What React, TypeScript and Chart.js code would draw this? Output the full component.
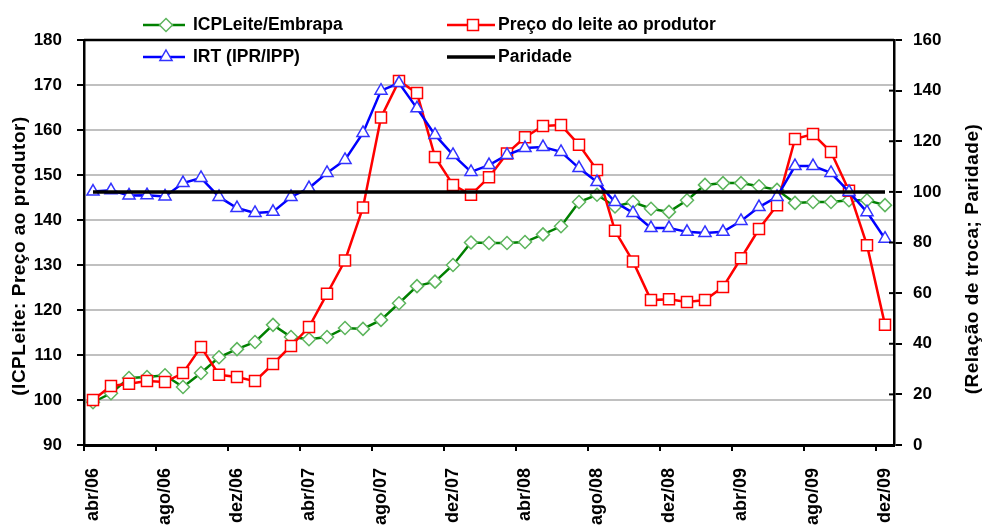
import React, { useEffect, useRef } from 'react';
import { Chart, registerables } from 'chart.js';

Chart.register(...registerables);

const FONT = '"Liberation Sans", Arial, Helvetica, sans-serif';

const months = [
  'abr/06', 'mai/06', 'jun/06', 'jul/06', 'ago/06', 'set/06', 'out/06', 'nov/06', 'dez/06',
  'jan/07', 'fev/07', 'mar/07', 'abr/07', 'mai/07', 'jun/07', 'jul/07', 'ago/07', 'set/07', 'out/07', 'nov/07', 'dez/07',
  'jan/08', 'fev/08', 'mar/08', 'abr/08', 'mai/08', 'jun/08', 'jul/08', 'ago/08', 'set/08', 'out/08', 'nov/08', 'dez/08',
  'jan/09', 'fev/09', 'mar/09', 'abr/09', 'mai/09', 'jun/09', 'jul/09', 'ago/09', 'set/09', 'out/09', 'nov/09', 'dez/09',
];

const shownTicks = ['abr/06', 'ago/06', 'dez/06', 'abr/07', 'ago/07', 'dez/07', 'abr/08', 'ago/08', 'dez/08', 'abr/09', 'ago/09', 'dez/09'];

// Left axis series
const icpLeite = [
  99.5, 101.5, 104.9, 105.1, 105.5, 102.9, 106, 109.5, 111.3,
  112.9, 116.7, 114, 113.5, 114, 116, 115.8, 117.8, 121.5, 125.3, 126.3, 130,
  135, 134.9, 134.9, 135.1, 136.8, 138.6, 144, 145.6, 143, 144, 142.5, 141.8,
  144.4, 147.8, 148.2, 148.2, 147.5, 146.7, 143.8, 144, 144, 144.4, 144.4, 143.3,
];

const precoLeite = [
  100, 103.1, 103.6, 104.2, 104, 106, 111.8, 105.6, 105.1,
  104.2, 108, 112, 116.2, 123.6, 131, 142.8, 162.8, 170.9, 168.2, 154, 147.8,
  145.6, 149.5, 154.8, 158.4, 160.9, 161.1, 156.7, 151.1, 137.6, 130.8, 122.2, 122.4,
  121.8, 122.2, 125.1, 131.5, 138, 143.3, 158, 159.1, 155.1, 146.5, 134.4, 116.7,
];

// Right axis series
const irt = [
  100.1, 100.6, 98.6, 98.7, 98.2, 103.5, 105.5, 98, 93.6,
  91.7, 92.1, 98, 101.5, 107.5, 112.6, 123.3, 140, 143, 133, 122.5, 114.6,
  107.9, 110.6, 114.6, 117.3, 117.7, 115.8, 109.4, 103.9, 96, 91.7, 85.7, 85.7,
  84.2, 83.8, 84.2, 88.5, 94, 98, 110.2, 110.2, 107.5, 100, 92, 81.5,
];

const paridade = [
  100, 100, 100, 100, 100, 100, 100, 100, 100,
  100, 100, 100, 100, 100, 100, 100, 100, 100, 100, 100, 100,
  100, 100, 100, 100, 100, 100, 100, 100, 100, 100, 100, 100,
  100, 100, 100, 100, 100, 100, 100, 100, 100, 100, 100, 100,
];

const leftAxisTitle = '(ICPLeite: Preço ao produtor)';
const rightAxisTitle = '(Relação de troca; Paridade)';

const legendItems = [
  { text: 'ICPLeite/Embrapa', color: '#008000', marker: 'diamond', markerColor: '#5DB55D', col: 0, row: 0 },
  { text: 'Preço do leite ao produtor', color: '#FF0000', marker: 'square', markerColor: '#FF0000', col: 1, row: 0 },
  { text: 'IRT (IPR/IPP)', color: '#0000FF', marker: 'triangle', markerColor: '#3333FF', col: 0, row: 1 },
  { text: 'Paridade', color: '#000000', marker: 'none', markerColor: '#000000', col: 1, row: 1 },
];

function drawMarker(ctx: CanvasRenderingContext2D, kind: string, x: number, y: number, color: string) {
  if (kind === 'none') return;
  ctx.save();
  ctx.beginPath();
  if (kind === 'diamond') {
    const r = 6.5;
    ctx.moveTo(x, y - r);
    ctx.lineTo(x + r, y);
    ctx.lineTo(x, y + r);
    ctx.lineTo(x - r, y);
    ctx.closePath();
  } else if (kind === 'square') {
    ctx.rect(x - 5.5, y - 5.5, 11, 11);
  } else if (kind === 'triangle') {
    const r = 7;
    ctx.moveTo(x, y - r);
    ctx.lineTo(x + r * 0.866, y + r * 0.5);
    ctx.lineTo(x - r * 0.866, y + r * 0.5);
    ctx.closePath();
  }
  ctx.fillStyle = '#ffffff';
  ctx.fill();
  ctx.lineWidth = 1.5;
  ctx.strokeStyle = color;
  ctx.stroke();
  ctx.restore();
}

const overlayPlugin = {
  id: 'overlay',
  afterDraw(chart: any) {
    const ctx: CanvasRenderingContext2D = chart.ctx;
    const area = chart.chartArea;
    ctx.save();
    // top border of the plot
    ctx.strokeStyle = '#000';
    ctx.lineWidth = 2.5;
    ctx.beginPath();
    ctx.moveTo(area.left, area.top);
    ctx.lineTo(area.right, area.top);
    ctx.stroke();

    // inner half of right-axis tick marks (they cross the axis)
    const y2 = chart.scales.y2;
    ctx.lineWidth = 2;
    y2.ticks.forEach((t: any) => {
      const py = y2.getPixelForValue(t.value);
      ctx.beginPath();
      ctx.moveTo(area.right - 5, py);
      ctx.lineTo(area.right, py);
      ctx.stroke();
    });

    // legend
    const colX = [{ l1: 143, l2: 185, tx: 193 }, { l1: 447, l2: 495, tx: 498 }];
    const rowY = [25, 57];
    ctx.font = `bold 17.5px ${FONT}`;
    ctx.textBaseline = 'middle';
    ctx.textAlign = 'left';
    legendItems.forEach((it) => {
      const c = colX[it.col];
      const y = rowY[it.row];
      ctx.strokeStyle = it.color;
      ctx.lineWidth = it.marker === 'none' ? 3.5 : 2.5;
      ctx.beginPath();
      ctx.moveTo(c.l1, y);
      ctx.lineTo(c.l2, y);
      ctx.stroke();
      drawMarker(ctx, it.marker, (c.l1 + c.l2) / 2 + 2, y, it.markerColor);
      ctx.fillStyle = '#000';
      ctx.fillText(it.text, c.tx, y);
    });

    // axis titles
    ctx.font = `bold 19px ${FONT}`;
    (ctx as any).letterSpacing = '0.5px';
    ctx.textAlign = 'center';
    ctx.textBaseline = 'middle';
    ctx.fillStyle = '#000';
    ctx.save();
    ctx.translate(20, 256);
    ctx.rotate(-Math.PI / 2);
    ctx.fillText(leftAxisTitle, 0, 0);
    ctx.restore();
    ctx.save();
    ctx.translate(973, 259);
    ctx.rotate(-Math.PI / 2);
    ctx.fillText(rightAxisTitle, 0, 0);
    ctx.restore();
    ctx.restore();
  },
};

export default function App() {
  const ref = useRef<HTMLCanvasElement>(null);

  useEffect(() => {
    document.body.style.margin = '0';
    const canvas = ref.current;
    if (!canvas) return;
    const tickFont = { family: FONT, size: 17, weight: 'bold' as const };
    const chart = new Chart(canvas, {
      type: 'line',
      data: {
        labels: months,
        datasets: [
          {
            label: 'Paridade',
            data: paridade,
            yAxisID: 'y2',
            borderColor: '#000000',
            borderWidth: 3.5,
            pointRadius: 0,
            order: 0,
          },
          {
            label: 'IRT (IPR/IPP)',
            data: irt,
            yAxisID: 'y2',
            borderColor: '#0000FF',
            borderWidth: 2.5,
            pointStyle: 'triangle',
            pointRadius: 7,
            pointBorderColor: '#3333FF',
            pointBackgroundColor: '#FFFFFF',
            pointBorderWidth: 1.5,
            order: 1,
          },
          {
            label: 'Preço do leite ao produtor',
            data: precoLeite,
            yAxisID: 'y',
            borderColor: '#FF0000',
            borderWidth: 2.5,
            pointStyle: 'rect',
            pointRadius: 7.8,
            pointBorderColor: '#FF0000',
            pointBackgroundColor: '#FFFFFF',
            pointBorderWidth: 1.5,
            order: 2,
          },
          {
            label: 'ICPLeite/Embrapa',
            data: icpLeite,
            yAxisID: 'y',
            borderColor: '#008000',
            borderWidth: 2.5,
            pointStyle: 'rectRot',
            pointRadius: 6.5,
            pointBorderColor: '#5DB55D',
            pointBackgroundColor: '#FFFFFF',
            pointBorderWidth: 1.5,
            order: 3,
          },
        ],
      },
      options: {
        responsive: false,
        animation: false,
        events: [],
        layout: { padding: { top: 40, left: 0, right: 0, bottom: 0 } },
        plugins: {
          legend: { display: false },
          tooltip: { enabled: false },
          title: { display: false },
        },
        scales: {
          x: {
            type: 'category',
            offset: true,
            grid: {
              offset: true,
              drawOnChartArea: false,
              drawTicks: true,
              tickLength: 6,
              lineWidth: 2,
              color: (c: any) =>
                c.tick && shownTicks.includes(months[c.index]) ? '#000000' : 'rgba(0,0,0,0)',
            },
            border: { display: true, color: '#000000', width: 3 },
            ticks: {
              autoSkip: false,
              minRotation: 90,
              maxRotation: 90,
              padding: 17,
              color: '#000000',
              font: { family: FONT, size: 18, weight: 'bold' },
              callback: (_v: any, i: number) => (shownTicks.includes(months[i]) ? months[i] : ''),
            },
            afterFit: (s: any) => {
              s.height = 81;
            },
          },
          y: {
            position: 'left',
            min: 90,
            max: 180,
            ticks: { stepSize: 10, padding: 15, color: '#000000', font: tickFont },
            grid: {
              lineWidth: 2,
              tickLength: 7,
              tickColor: '#000000',
              tickWidth: 2,
              color: (c: any) =>
                c.tick && (c.tick.value === 90 || c.tick.value === 180) ? 'rgba(0,0,0,0)' : '#C0C0C0',
            },
            border: { display: true, color: '#000000', width: 2.5 },
            afterFit: (s: any) => {
              s.width = 84;
            },
          },
          y2: {
            position: 'right',
            min: 0,
            max: 160,
            ticks: { stepSize: 20, padding: 11, color: '#000000', font: tickFont },
            grid: {
              drawOnChartArea: false,
              tickLength: 8,
              lineWidth: 2,
              color: '#000000',
            },
            border: { display: true, color: '#000000', width: 2.5 },
            afterFit: (s: any) => {
              s.width = 88;
            },
          },
        },
      },
      plugins: [overlayPlugin],
    } as any);
    return () => chart.destroy();
  }, []);

  return <canvas ref={ref} width={982} height={526} style={{ display: 'block' }} />;
}
